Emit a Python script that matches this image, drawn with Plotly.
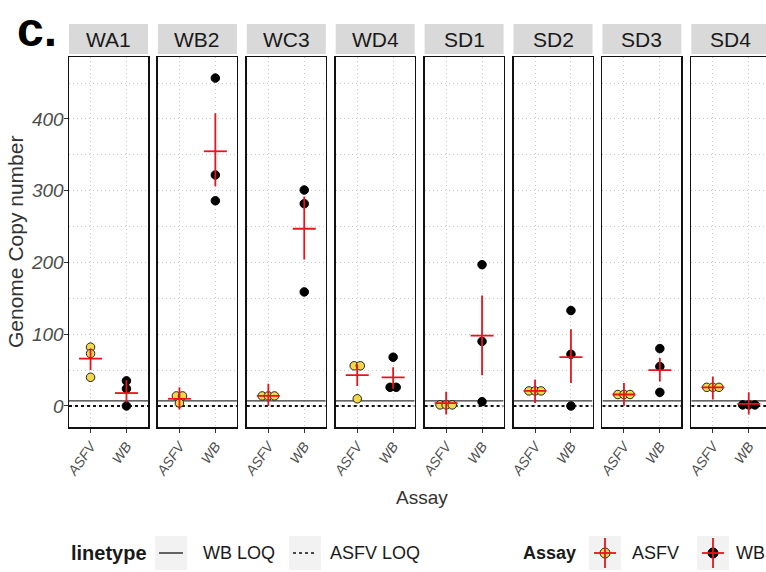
import plotly.graph_objects as go

# ---------------- data ----------------
panels = ["WA1", "WB2", "WC3", "WD4", "SD1", "SD2", "SD3", "SD4"]
assays = ["ASFV", "WB"]

asfv_points = [[82, 73, 40], [14, 14, 4], [14, 14, 14], [56, 56, 10],
               [1.5, 1.5, 1.5], [21, 21, 21], [16, 16, 16], [26, 26, 26]]
wb_points = [[35, 24, 0], [457, 322, 286], [301, 282, 159], [68, 26, 26],
             [197, 90, 6], [133, 72, 0], [80, 55, 19], [1.5, 1.5, 1.5]]

asfv_mean = [66, 10, 14, 43, 4, 21, 16, 26]
asfv_lo = [50, -5, 0, 28, -12, 4, 0, 9]
asfv_hi = [80, 26, 31, 58, 20, 37, 32, 41]

wb_mean = [18, 355, 247, 40, 98, 68, 50, 3]
wb_lo = [5, 306, 204, 24, 43, 32, 34, -12]
wb_hi = [36, 408, 292, 54, 154, 107, 67, 19]

wb_loq = 7
asfv_loq = 0
y_ticks = [0, 100, 200, 300, 400]
y_minor = [50, 150, 250, 350, 450]

# ---------------- geometry (screen pixels) ----------------
SW, SH = 766, 572
L, T, B = 69, 57, 427
PW = SW - L
PH = B - T
PANEL_W = 79
PITCH = 88.9
Y_RANGE = [-29.3, 486.4]
X_RANGE = [0.4, 2.6]

FONT = "Arial, Liberation Sans, sans-serif"
RED = "#E8141C"
YELLOW = "#F3D84A"
GRID = "#C8C8C8"
GRID_DASH = "1px,3px"


def px_x(px):
    return (px - L) / PW


def px_y(py):
    return (B - py) / PH


def swarm(vals, center, tol=3, step=0.17):
    xs = [None] * len(vals)
    used = [False] * len(vals)
    for i, v in enumerate(vals):
        if used[i]:
            continue
        grp = [j for j in range(len(vals)) if not used[j] and abs(vals[j] - v) <= tol]
        for j in grp:
            used[j] = True
        n = len(grp)
        for k, j in enumerate(grp):
            xs[j] = center + (k - (n - 1) / 2) * step
    return xs


fig = go.Figure()
shapes = []
annotations = []

for i, name in enumerate(panels):
    sfx = "" if i == 0 else str(i + 1)
    xa, ya = "x" + sfx, "y" + sfx
    x0px = L + i * PITCH
    x1px = min(x0px + PANEL_W, SW)
    d0, d1 = px_x(x0px), min(px_x(x1px), 1.0)
    xr = [X_RANGE[0], X_RANGE[0] + (X_RANGE[1] - X_RANGE[0]) * (x1px - x0px) / PANEL_W]

    # LOQ lines
    fig.add_trace(go.Scatter(x=list(X_RANGE), y=[wb_loq, wb_loq], mode="lines",
                             line=dict(color="#333333", width=1.2),
                             xaxis=xa, yaxis=ya, showlegend=False, hoverinfo="skip"))
    fig.add_trace(go.Scatter(x=list(X_RANGE), y=[asfv_loq, asfv_loq], mode="lines",
                             line=dict(color="#111111", width=2, dash="dot"),
                             xaxis=xa, yaxis=ya, showlegend=False, hoverinfo="skip"))

    groups = [
        (1, asfv_points[i], asfv_mean[i], asfv_lo[i], asfv_hi[i], YELLOW, "#222222"),
        (2, wb_points[i], wb_mean[i], wb_lo[i], wb_hi[i], "#000000", "#000000"),
    ]
    for c, pts, m, lo, hi, fill, edge in groups:
        fig.add_trace(go.Scatter(
            x=swarm(pts, c), y=pts, mode="markers",
            marker=dict(size=8.5, color=fill, line=dict(color=edge, width=1)),
            xaxis=xa, yaxis=ya, showlegend=False, cliponaxis=False))
    for c, pts, m, lo, hi, fill, edge in groups:
        fig.add_trace(go.Scatter(
            x=[c - 0.32, c + 0.32, None, c, c], y=[m, m, None, lo, hi],
            mode="lines", line=dict(color=RED, width=1.8),
            xaxis=xa, yaxis=ya, showlegend=False, hoverinfo="skip"))

    last = (i == len(panels) - 1)
    fig.layout["xaxis" + sfx] = dict(
        domain=[d0, d1], range=xr, anchor=ya,
        tickvals=[1, 2], ticktext=assays, tickangle=-55,
        tickfont=dict(family=FONT, size=14, color="#4D4D4D", style="italic"),
        ticks="outside", ticklen=4, tickcolor="#333333",
        showgrid=True, griddash=GRID_DASH, gridcolor=GRID, gridwidth=1,
        showline=True, linecolor="#111111", linewidth=1.5, mirror=True,
        zeroline=False, fixedrange=True)
    fig.layout["yaxis" + sfx] = dict(
        domain=[0, 1], range=Y_RANGE, anchor=xa,
        tickvals=y_ticks, ticktext=[str(v) for v in y_ticks],
        showticklabels=(i == 0),
        tickfont=dict(family=FONT, size=19, color="#4D4D4D", style="italic"),
        ticks="outside" if i == 0 else "", ticklen=4, tickcolor="#333333",
        ticklabelstandoff=-4,
        showgrid=True, griddash=GRID_DASH, gridcolor=GRID, gridwidth=1,
        minor=dict(tickvals=y_minor, showgrid=True, griddash=GRID_DASH,
                   gridcolor=GRID, gridwidth=1, ticks=""),
        showline=True, linecolor="#111111", linewidth=1.5, mirror=not last,
        zeroline=False, fixedrange=True)

    # strip
    shapes.append(dict(type="rect", xref="paper", yref="paper",
                       x0=d0, x1=d1, y0=px_y(54), y1=px_y(24),
                       fillcolor="#D9D9D9", line=dict(width=0)))
    annotations.append(dict(text=name, xref="paper", yref="paper",
                            x=(px_x(x0px) + px_x(x0px + PANEL_W)) / 2, y=px_y(39.5),
                            xanchor="center", yanchor="middle", showarrow=False,
                            font=dict(family=FONT, size=21, color="#1A1A1A")))

# panel label
annotations.append(dict(text="<b>c.</b>", xref="paper", yref="paper",
                        x=px_x(15), y=px_y(1), xanchor="left", yanchor="top",
                        showarrow=False, font=dict(family=FONT, size=48, color="#000000")))
# axis titles
annotations.append(dict(text="Genome Copy number", xref="paper", yref="paper",
                        x=px_x(15), y=px_y(242), xanchor="center", yanchor="middle",
                        textangle=-90, showarrow=False,
                        font=dict(family=FONT, size=21, color="#333333")))
annotations.append(dict(text="Assay", xref="paper", yref="paper",
                        x=px_x(422), y=px_y(497), xanchor="center", yanchor="middle",
                        showarrow=False, font=dict(family=FONT, size=19, color="#333333")))

# ---------------- legend (drawn) ----------------
LY = 553
KT, KB = 536, 570


def key_box(xl, xr):
    shapes.append(dict(type="rect", xref="paper", yref="paper",
                       x0=px_x(xl), x1=px_x(xr), y0=px_y(KB), y1=px_y(KT),
                       fillcolor="#F2F2F2", line=dict(width=0)))


def legend_text(txt, x, anchor="left", bold=False, size=18):
    annotations.append(dict(text=("<b>%s</b>" % txt) if bold else txt,
                            xref="paper", yref="paper", x=px_x(x), y=px_y(LY),
                            xanchor=anchor, yanchor="middle", showarrow=False,
                            font=dict(family=FONT, size=size, color="#1A1A1A")))


legend_text("linetype", 149, "right", bold=True, size=20)
key_box(155, 187)
shapes.append(dict(type="line", xref="paper", yref="paper",
                   x0=px_x(159), x1=px_x(183), y0=px_y(LY), y1=px_y(LY),
                   line=dict(color="#333333", width=1.5)))
legend_text("WB LOQ", 201)
key_box(289, 321)
shapes.append(dict(type="line", xref="paper", yref="paper",
                   x0=px_x(293), x1=px_x(317), y0=px_y(LY), y1=px_y(LY),
                   line=dict(color="#111111", width=1.5, dash="dot")))
legend_text("ASFV LOQ", 328)

legend_text("Assay", 578, "right", bold=True)
for (xl, xr), fill, edge in [((589, 621), YELLOW, "#222222"), ((697, 729), "#000000", "#000000")]:
    key_box(xl, xr)
    cx = (xl + xr) / 2
    r = 5
    shapes.append(dict(type="circle", xref="paper", yref="paper",
                       x0=px_x(cx - r), x1=px_x(cx + r), y0=px_y(LY + r), y1=px_y(LY - r),
                       fillcolor=fill, line=dict(color=edge, width=1)))
    shapes.append(dict(type="line", xref="paper", yref="paper",
                       x0=px_x(cx), x1=px_x(cx), y0=px_y(KB - 2), y1=px_y(KT + 2),
                       line=dict(color=RED, width=1.8)))
    shapes.append(dict(type="line", xref="paper", yref="paper",
                       x0=px_x(cx - 11), x1=px_x(cx + 11), y0=px_y(LY), y1=px_y(LY),
                       line=dict(color=RED, width=1.8)))
legend_text("ASFV", 630)
legend_text("WB", 734)

fig.update_layout(
    width=SW, height=SH,
    margin=dict(l=L, r=0, t=T, b=SH - B, pad=0),
    paper_bgcolor="white", plot_bgcolor="white",
    shapes=shapes, annotations=annotations,
    showlegend=False,
    font=dict(family=FONT),
)

fig.write_html("out.html",
               config={"displayModeBar": False, "staticPlot": True},
               post_script="document.body.style.margin='0px';"
                           "document.body.style.padding='0px';"
                           "document.body.style.overflow='hidden';")
